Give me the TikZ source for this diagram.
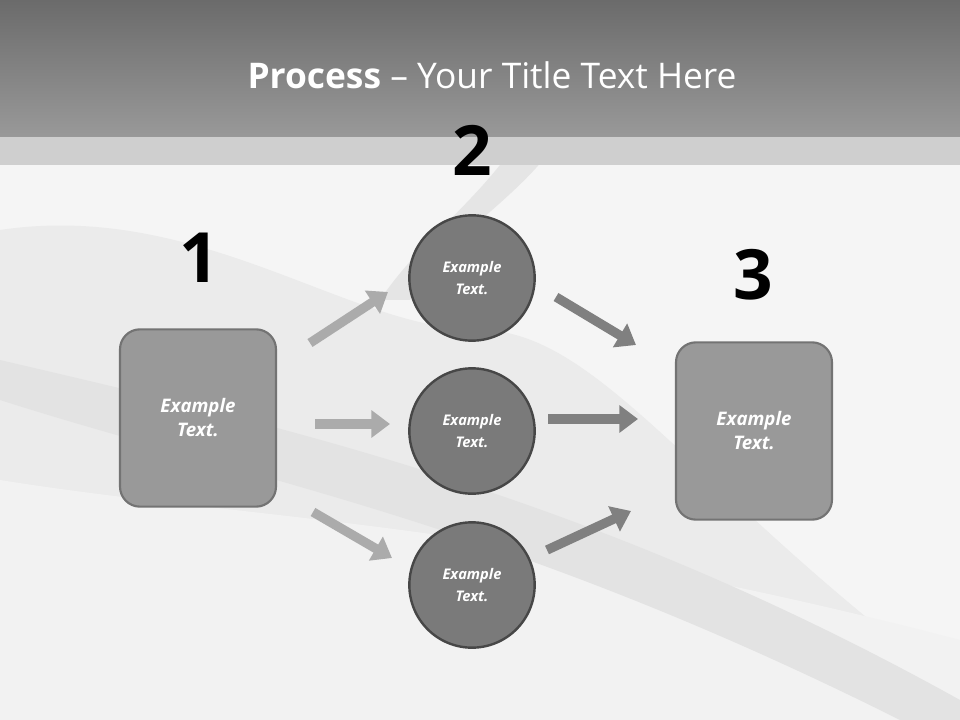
\documentclass[tikz,border=0pt]{standalone}
\usepackage{fontspec}
\setmainfont{Open Sans}
\usetikzlibrary{arrows.meta}
\definecolor{bg}{HTML}{F5F5F5}
\tikzset{
 box/.style={draw=black!55,line width=1.6pt,fill=black!40,rounded corners=15pt,minimum width=117pt,minimum height=133pt,text=white,font=\fontsize{14}{18}\selectfont\bfseries\itshape,align=center},
 circ/.style={circle,draw=black!72,line width=1.8pt,fill=black!52,minimum size=94pt,text=white,font=\fontsize{11}{16}\selectfont\bfseries\itshape,align=center},
 num/.style={font=\fontsize{52}{52}\selectfont\bfseries,text=black},
 arrl/.style={draw=black!33,line width=7pt,-{Triangle[length=14pt,width=20pt]}},
 arrr/.style={draw=black!50,line width=7pt,-{Triangle[length=14pt,width=20pt]}},
}
\begin{document}
\begin{tikzpicture}[x=0.75pt,y=-0.75pt]
\useasboundingbox (0,0) rectangle (960,720);
\fill[bg] (0,0) rectangle (960,720);
% background waves
\fill[white!92!black] (0,230) .. controls (200,200) and (350,330) .. (480,330) .. controls (600,330) and (700,500) .. (960,690) -- (960,720) -- (0,720) -- cycle;
\fill[white!95!black] (0,480) .. controls (250,520) and (500,520) .. (960,640) -- (960,720) -- (0,720) -- cycle;
\fill[white!89!black] (0,400) .. controls (250,480) and (500,520) .. (900,720) -- (960,720) -- (960,700) .. controls (600,500) and (300,430) .. (0,360) -- cycle;
\fill[white!90!black] (410,300) .. controls (440,240) and (520,200) .. (560,137) -- (520,137) .. controls (480,200) and (420,240) .. (380,300) -- cycle;
% header
\shade[top color=black!58,bottom color=black!40] (0,0) rectangle (960,137);
\fill[black!19] (0,137) rectangle (960,165);
\node[text=white,font=\fontsize{26.5}{30}\selectfont] (title) at (492,75) {\textbf{Process} – Your Title Text Here};
% nodes
\node[box] (b1) at (198,418) {Example\\Text.};
\node[box] (b3) at (754,431) {Example\\Text.};
\node[circ] (c1) at (472,278) {Example\\Text.};
\node[circ] (c2) at (472,431) {Example\\Text.};
\node[circ] (c3) at (472,585) {Example\\Text.};
\node[num] (n1) at (199,258) {1};
\node[num] (n2) at (472,150) {2};
\node[num] (n3) at (753,275) {3};
% arrows
\coordinate (a1s) at (310,343); \coordinate (a1e) at (388,292);
\coordinate (a2s) at (315,424); \coordinate (a2e) at (390,424);
\coordinate (a3s) at (313,512); \coordinate (a3e) at (392,558);
\coordinate (a4s) at (556,297); \coordinate (a4e) at (636,345);
\coordinate (a5s) at (548,419); \coordinate (a5e) at (638,419);
\coordinate (a6s) at (547,550); \coordinate (a6e) at (631,511);
\draw[arrl] (a1s) -- (a1e);
\draw[arrl] (a2s) -- (a2e);
\draw[arrl] (a3s) -- (a3e);
\draw[arrr] (a4s) -- (a4e);
\draw[arrr] (a5s) -- (a5e);
\draw[arrr] (a6s) -- (a6e);
\end{tikzpicture}
\end{document}
